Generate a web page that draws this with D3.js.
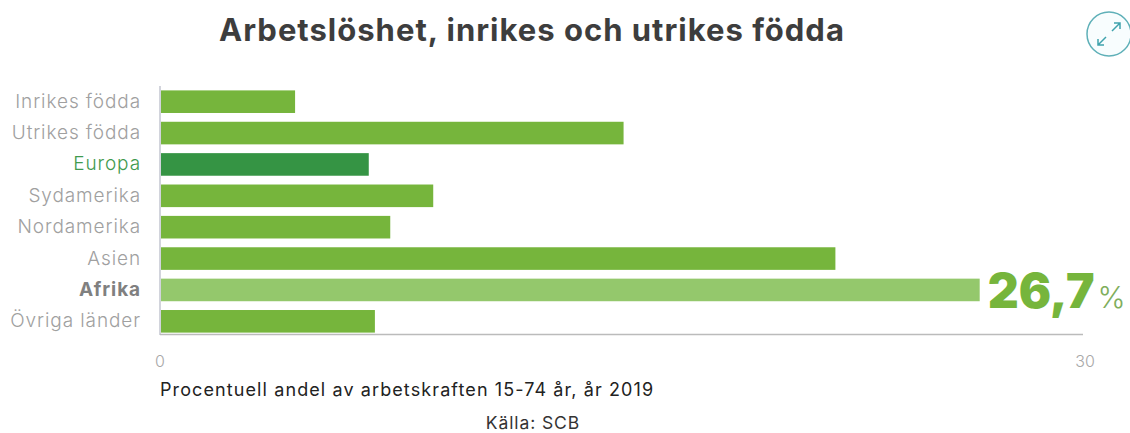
<!DOCTYPE html>
<html>
<head>
<meta charset="utf-8">
<script src="https://cdn.jsdelivr.net/npm/d3@7"></script>
<style>
html, body { margin: 0; padding: 0; background: #fff; }
svg { display: block; font-family: Inter, sans-serif; }
.title { font-size: 31px; font-weight: 700; fill: #3d3d3d; text-anchor: middle; letter-spacing: 1px; }
.cat { font-size: 19px; font-weight: 300; text-anchor: end; letter-spacing: 0.9px; }
.tick-label { font-size: 16px; font-weight: 300; fill: #a8a8a8; text-anchor: middle; }
.note { font-size: 18px; fill: #222; letter-spacing: 1.1px; }
.source { font-size: 17.5px; fill: #333; text-anchor: middle; letter-spacing: 0.9px; }
</style>
</head>
<body>
<svg id="chart" width="1130" height="433"></svg>
<script>
var categories = ['Inrikes födda', 'Utrikes födda', 'Europa', 'Sydamerika', 'Nordamerika', 'Asien', 'Afrika', 'Övriga länder'];
var values = [4.4, 15.1, 6.8, 8.9, 7.5, 22.0, 26.7, 7.0];
var tickValues = [0, 30];
var highlighted = 'Afrika';
var selected = 'Europa';

var config = {
    left: 160,
    right: 1081,
    top: 86,
    bottom: 337
};

var svg = d3.select('#chart');

var x = d3.scaleLinear()
    .domain([0, 30])
    .range([config.left, config.right]);

var y = d3.scaleBand()
    .domain(categories)
    .range([config.top, config.bottom])
    .paddingInner(0.28)
    .paddingOuter(0.14);

function barColor(d) {
    if(d === selected) return '#359444';
    if(d === highlighted) return '#94c86c';
    return '#76b53c';
}

function labelColor(d) {
    if(d === selected) return '#3f9a4e';
    if(d === highlighted) return '#808080';
    return '#a0a0a0';
}

svg.append('text')
    .classed('title', true)
    .attr('x', 532)
    .attr('y', 41)
    .text('Arbetslöshet, inrikes och utrikes födda');

// expand icon
var icon = svg.append('g')
    .attr('transform', 'translate(1109,34)')
    .attr('fill', 'none')
    .attr('stroke', '#3fa3ad')
    .attr('stroke-width', 1.5);

icon.append('circle')
    .attr('r', 22)
    .attr('fill', '#f8fdfe')
    .attr('stroke', '#5fb0b8');

icon.append('path')
    .attr('d', 'M3,-3 L11,-11 M5,-11 H11 V-5 M-3,3 L-11,11 M-11,5 V11 H-5');

// axes
svg.append('line')
    .attr('x1', x(0)).attr('x2', x(0))
    .attr('y1', config.top).attr('y2', config.bottom - 2)
    .attr('stroke', '#c3c6d0')
    .attr('stroke-width', 1.5);

svg.append('line')
    .attr('x1', x(0)).attr('x2', x(30) + 2)
    .attr('y1', 334.5).attr('y2', 334.5)
    .attr('stroke', '#bbbbbb')
    .attr('stroke-width', 1.5);

svg.selectAll('rect.bar')
    .data(categories)
    .join('rect')
    .classed('bar', true)
    .attr('x', x(0) + 1)
    .attr('y', function(d) { return y(d); })
    .attr('width', function(d, i) { return x(values[i]) - x(0) - 1; })
    .attr('height', y.bandwidth())
    .attr('fill', barColor);

svg.selectAll('text.cat')
    .data(categories)
    .join('text')
    .classed('cat', true)
    .attr('x', 141)
    .attr('y', function(d) { return y(d) + y.bandwidth() / 2 + 6; })
    .style('fill', labelColor)
    .style('font-weight', function(d) { return d === highlighted ? 700 : 300; })
    .text(function(d) { return d; });

svg.selectAll('text.tick-label')
    .data(tickValues)
    .join('text')
    .classed('tick-label', true)
    .attr('x', function(d) { return x(d) + (d ? 4 : 0); })
    .attr('y', 367)
    .text(function(d) { return d; });

// value callout for the highlighted bar
var hi = categories.indexOf(highlighted);
var callout = svg.append('text')
    .attr('x', x(values[hi]) + 8)
    .attr('y', 308)
    .attr('fill', '#76b53c');

callout.append('tspan')
    .style('font-size', '48px')
    .style('font-weight', 900)
    .text(String(values[hi]).replace('.', ','));

callout.append('tspan')
    .style('font-size', '30px')
    .style('font-weight', 300)
    .attr('fill', '#7fae5c')
    .attr('dx', 3)
    .text('%');

svg.append('text')
    .classed('note', true)
    .attr('x', 160)
    .attr('y', 396)
    .text('Procentuell andel av arbetskraften 15-74 år, år 2019');

svg.append('text')
    .classed('source', true)
    .attr('x', 533)
    .attr('y', 429)
    .text('Källa: SCB');
</script>
</body>
</html>
